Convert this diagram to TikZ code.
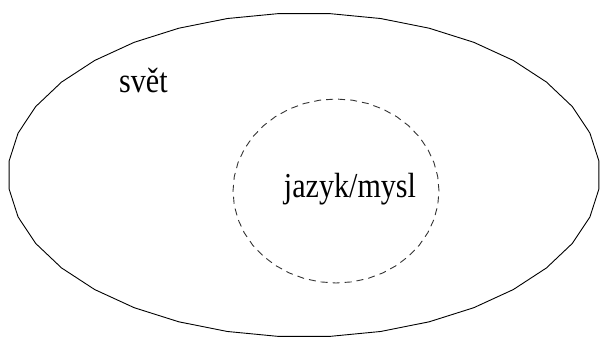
\documentclass[tikz,border=0pt]{standalone}
\usepackage{fontspec}
\setmainfont{Liberation Serif}
\begin{document}
\begin{tikzpicture}[x=1pt,y=-1pt,
  outline/.style={draw=black,line width=0.9pt,line join=round},
  dashline/.style={draw=black!80,line width=0.9pt,dash pattern=on 7pt off 5pt},
  lbl/.style={inner sep=0pt,font=\fontsize{35}{40}\selectfont,xscale=0.86}]
\useasboundingbox (0,0) rectangle (602,338);
\coordinate (wc) at (304,175);
\coordinate (mc) at (336,191);
\draw[outline] plot[domain=95:455,samples=37] ({304+296*cos(\x)},{175-162*sin(\x)}) -- cycle;
\draw[dashline] plot[domain=0:360,samples=41] ({336+103*cos(\x)},{191-92*sin(\x)}) -- cycle;
\node[lbl,anchor=base west] (svet) at (119,92) {svět};
\node[lbl,anchor=base] (jazyk) at (350,197) {jazyk/mysl};
\end{tikzpicture}
\end{document}
